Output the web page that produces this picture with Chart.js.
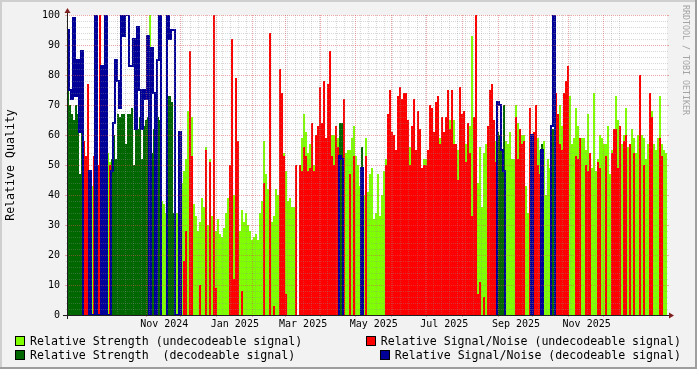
<!DOCTYPE html>
<html>
<head>
<meta charset="utf-8">
<script src="https://cdn.jsdelivr.net/npm/chart.js@4.4.1/dist/chart.umd.min.js"></script>
<style>
  body { margin: 0; background: #f2f2f2; }
  #wrap { position: relative; width: 697px; height: 369px; font-family: "DejaVu Sans Mono", monospace; }
  #myChart { position: absolute; left: 0; top: 0; }
  .item { position: absolute; display: flex; align-items: center; height: 14px; font-size: 11.6px; color: #000; white-space: pre; }
  .box { display: inline-block; width: 8px; height: 8px; border: 1px solid #000; margin-right: 5px; }
  #mark { position: absolute; left: 681px; top: 5px; font-size: 8.3px; line-height: 10px; color: #a4a4a4; writing-mode: vertical-rl; white-space: pre; }
</style>
</head>
<body>
<div id="wrap">
  <canvas id="myChart" width="697" height="369"></canvas>
  <div id="legend"></div>
  <div id="mark">RRDTOOL / TOBI OETIKER</div>
</div>
<script>
// time range of the graph: 1 Oct 2024 + 444.4 days, cut into 300 slots
const startDate = Date.UTC(2024, 9, 1);
const totalDays = 444.4;

// 1 = decodeable signal, 0 = undecodeable
const decodeable = [
  1,1,1,1,1,1,1,1,0,0, 0,1,0,0,1,0,0,1,0,1, 0,0,1,1,1,1,1,1,1,1, 1,1,1,1,1,1,1,1,1,1,
  1,0,1,1,0,1,1,0,0,0, 1,1,1,1,0,0,1,0,0,0, 0,0,0,0,0,0,0,0,0,0, 0,0,0,0,0,0,0,0,0,0,
  0,0,0,0,0,0,0,0,0,0, 0,0,0,0,0,0,0,0,0,0, 0,0,0,0,0,0,0,0,0,0, 0,0,0,0,0,0,0,0,0,0,
  0,0,0,0,0,0,0,0,0,0, 0,0,0,0,0,0,1,1,0,0, 0,0,0,0,0,0,0,1,0,0, 0,0,0,0,0,0,0,0,0,0,
  0,0,0,0,0,0,0,0,0,0, 0,0,0,0,0,0,0,0,0,0, 0,0,0,0,0,0,0,0,0,0, 0,0,0,0,0,0,0,0,0,0,
  0,0,0,0,0,0,0,0,0,0, 0,0,0,0,0,1,1,1,1,0, 0,0,0,0,0,0,0,0,0,0, 0,0,1,0,0,0,0,1,0,0,
  0,0,1,1,0,0,0,0,0,0, 0,0,0,0,0,0,0,0,0,0, 0,0,0,0,0,0,0,0,0,0, 0,0,0,0,0,0,0,0,0,0,
  0,0,0,0,0,0,0,0,0,0, 0,0,0,0,0,0,0,0,0,0
];

// relative strength per slot
const strength = [
  88,70,67,65,70,67,47,69,50,48, 52,47,43,50,71,48,50,58,60,66, 54,51,52,60,52,67,66,67,67,57, 67,67,69,50,66,62,66,52,63,65,
  66,100,54,62,35,66,65,38,37,34, 73,73,71,34,34,34,44,44,48,52, 68,60,66,37,33,28,31,39,36,56, 30,52,33,38,28,32,27,26,29,34,
  39,35,46,40,28,29,28,35,31,34, 30,28,25,26,27,25,34,38,58,47, 42,37,31,33,42,40,46,50,54,48, 38,39,36,36,50,null,50,59,67,61,
  54,57,57,50,55,55,58,56,59,58, 55,52,60,60,60,59,64,64,50,54, 55,55,59,63,53,50,43,56,40,59, 41,47,49,32,34,47,33,40,48,52,
  50,60,58,55,50,55,60,60,58,55, 56,56,52,52,50,52,50,44,52,52, 50,50,55,50,52,59,59,62,60,60, 58,65,57,65,55,55,58,55,57,57,
  55,63,93,59,49,44,56,36,54,57, 55,60,60,60,58,61,60,55,70,58, 57,61,52,52,70,64,57,60,60,43, 34,64,60,56,50,59,55,57,58,40,
  52,49,62,62,64,64,70,63,60,62, 64,73,57,59,69,63,50,59,59,55, 67,49,49,74,48,52,60,59,57,57, 63,47,55,59,73,65,57,57,60,69,
  56,53,62,59,54,60,55,60,59,52, 57,55,68,57,55,59,73,57,55,54
];

// relative signal/noise per slot
const snr = [
  95,75,72,99,73,85,61,88,58,53, 77,48,null,53,100,50,100,83,68,100, null,50,48,64,85,78,69,100,93,100, 100,83,83,92,62,96,75,62,75,72,
  93,null,89,74,null,85,100,null,null,null, 100,92,95,95,null,null,61,null,18,28, null,88,53,null,null,null,10,null,null,55, null,51,null,100,9,null,null,null,null,null,
  null,50,92,12,79,58,null,8,null,null, null,null,null,null,null,null,null,null,44,null, null,94,null,3,null,null,82,74,53,7, null,null,null,null,50,null,50,48,56,53,
  48,49,64,48,60,63,76,64,78,59, 77,88,53,50,63,56,53,52,72,null, null,47,null,53,null,null,null,49,null,53, null,null,null,null,null,null,null,null,null,50,
  67,75,61,60,55,73,76,72,74,74, 65,50,63,72,55,68,62,49,50,50, 55,70,69,61,71,73,57,66,61,66, 75,62,75,57,57,45,76,67,68,51,
  64,54,33,66,100,7,11,null,6,null, 63,75,77,65,51,71,70,55,48,null, null,null,null,null,66,52,62,57,58,null, null,69,60,61,70,50,47,55,null,null,
  null,null,63,100,74,67,57,55,74,78, 83,null,null,null,53,52,59,null,null,50, 48,54,null,null,null,51,49,null,null,53, null,null,54,62,62,49,63,null,58,60,
  null,57,null,54,null,null,80,null,50,null, null,74,66,null,null,null,59,53,null,null
];

// x axis labels and the month each one belongs to
const xTickLabels = ['Nov 2024', 'Jan 2025', 'Mar 2025', 'May 2025', 'Jul 2025', 'Sep 2025', 'Nov 2025'];
const xTickMonths = ['2024-11-01', '2025-01-01', '2025-03-01', '2025-05-01', '2025-07-01', '2025-09-01', '2025-11-01'];

const legendLabels = [
  'Relative Strength (undecodeable signal)',
  'Relative Strength  (decodeable signal)',
  'Relative Signal/Noise (undecodeable signal)',
  'Relative Signal/Noise (decodeable signal)'
];
const legendColors = ['#7fff00', '#006600', '#ff0000', '#000099'];

function dayOf(ms) {
  return (ms - startDate) / 86400000;
}

// split the series by decodeable / undecodeable
const strengthU = strength.map((v, i) => decodeable[i] ? null : v);
const strengthD = strength.map((v, i) => decodeable[i] ? v : null);
const snrU = snr.map((v, i) => decodeable[i] ? null : v);
// the decodeable S/N is a step line which drops to 0 next to undecodeable slots
const snrD = snr.map((v, i) => {
  if (decodeable[i]) return v;
  return (decodeable[i - 1] || decodeable[i + 1]) ? 0 : null;
});

// rrdtool look: background, frame, grid on top of the graph, axes and arrows
const rrdFrame = {
  id: 'rrdFrame',
  beforeDraw(chart) {
    const { ctx, chartArea: a, width, height } = chart;
    ctx.save();
    ctx.fillStyle = '#f2f2f2';
    ctx.fillRect(0, 0, width, height);
    ctx.fillStyle = '#cfcfcf';
    ctx.fillRect(0, 0, width, 2);
    ctx.fillRect(0, 0, 2, height);
    ctx.fillStyle = '#9e9e9e';
    ctx.fillRect(0, height - 2, width, 2);
    ctx.fillRect(width - 2, 0, 2, height);
    ctx.fillStyle = '#ffffff';
    ctx.fillRect(a.left, a.top, a.right - a.left, a.bottom - a.top);
    ctx.restore();
  },
  afterDatasetsDraw(chart) {
    const { ctx, chartArea: a } = chart;
    const y = chart.scales.y;
    const xt = chart.scales.xt;
    const minor = 'rgba(143,143,143,0.35)';
    const major = 'rgba(222,79,79,0.5)';
    const line = (x1, y1, x2, y2, color) => {
      ctx.strokeStyle = color;
      ctx.beginPath();
      ctx.moveTo(x1, y1);
      ctx.lineTo(x2, y2);
      ctx.stroke();
    };
    ctx.save();
    ctx.lineWidth = 1;

    // week lines (mondays) and month lines
    const months = [];
    for (let k = 1; k < 16; k++) {
      const d = dayOf(Date.UTC(2024, 9 + k, 1));
      if (d < totalDays) months.push(d);
    }
    const weeks = [];
    for (let d = 6; d < totalDays; d += 7) {
      if (!months.includes(d)) weeks.push(d);
    }

    ctx.setLineDash([1, 1]);
    for (let v = 2; v <= 100; v += 2) {
      if (v % 10 === 0) continue;
      const py = Math.round(y.getPixelForValue(v)) + 0.5;
      line(a.left, py, a.right, py, minor);
    }
    weeks.forEach(d => {
      const px = Math.round(xt.getPixelForValue(d)) + 0.5;
      line(px, a.top, px, a.bottom, minor);
    });
    for (let v = 10; v <= 100; v += 10) {
      const py = Math.round(y.getPixelForValue(v)) + 0.5;
      line(a.left, py, a.right, py, major);
    }
    months.forEach(d => {
      const px = Math.round(xt.getPixelForValue(d)) + 0.5;
      line(px, a.top, px, a.bottom, major);
    });

    // little tick marks outside the plot
    ctx.setLineDash([]);
    weeks.forEach(d => {
      const px = Math.round(xt.getPixelForValue(d)) + 0.5;
      line(px, a.bottom, px, a.bottom + 1, minor);
    });
    months.forEach(d => {
      const px = Math.round(xt.getPixelForValue(d)) + 0.5;
      line(px, a.bottom, px, a.bottom + 2, major);
    });
    for (let v = 2; v <= 100; v += 2) {
      const py = Math.round(y.getPixelForValue(v)) + 0.5;
      const len = v % 10 === 0 ? 2 : 1;
      line(a.left - len, py, a.left, py, v % 10 === 0 ? major : minor);
      line(a.right, py, a.right + len, py, v % 10 === 0 ? major : minor);
    }

    // axes
    const ox = a.left + 0.5;
    const oy = a.bottom + 0.5;
    line(a.left - 4, oy, a.right + 4, oy, '#1f1f1f');
    line(ox, a.bottom + 4, ox, a.top - 4, '#1f1f1f');

    // arrows
    ctx.fillStyle = '#801f1f';
    ctx.beginPath();
    ctx.moveTo(a.right + 2, oy - 3);
    ctx.lineTo(a.right + 2, oy + 3);
    ctx.lineTo(a.right + 7, oy);
    ctx.closePath();
    ctx.fill();
    ctx.beginPath();
    ctx.moveTo(ox - 3, a.top - 2);
    ctx.lineTo(ox + 3, a.top - 2);
    ctx.lineTo(ox, a.top - 7);
    ctx.closePath();
    ctx.fill();
    ctx.restore();
  }
};

Chart.defaults.font.family = '"DejaVu Sans Mono", monospace';
Chart.defaults.color = '#000';

const ctx = document.getElementById('myChart');

new Chart(ctx, {
  type: 'bar',
  data: {
    labels: strength.map((v, i) => String(i)),
    datasets: [
      {
        type: 'line',
        label: legendLabels[3],
        data: snrD,
        borderColor: legendColors[3],
        borderWidth: 2,
        pointRadius: 0,
        stepped: 'middle',
        fill: false,
        spanGaps: false,
        order: 0
      },
      { label: legendLabels[2], data: snrU, backgroundColor: legendColors[2], order: 1 },
      { label: legendLabels[1], data: strengthD, backgroundColor: legendColors[1], order: 2 },
      { label: legendLabels[0], data: strengthU, backgroundColor: legendColors[0], order: 3 }
    ]
  },
  options: {
    responsive: false,
    animation: false,
    devicePixelRatio: 1,
    layout: { padding: { top: 15, right: 30, left: 0, bottom: 0 } },
    datasets: {
      bar: { barPercentage: 1, categoryPercentage: 1, grouped: false, borderWidth: 0, inflateAmount: 0 }
    },
    plugins: {
      legend: { display: false },
      tooltip: { enabled: false }
    },
    scales: {
      x: { type: 'category', display: false, offset: true },
      xt: {
        type: 'linear',
        position: 'bottom',
        min: 0,
        max: totalDays,
        afterBuildTicks(scale) {
          // labels sit in the middle of their month
          scale.ticks = xTickMonths.map(m => ({ value: dayOf(Date.parse(m)) + 16 }));
        },
        afterFit(scale) { scale.height = 54; },
        grid: { display: false, drawTicks: false },
        border: { display: false },
        ticks: {
          autoSkip: false,
          maxRotation: 0,
          minRotation: 0,
          padding: 3,
          font: { size: 10 },
          callback: (v, i) => xTickLabels[i]
        }
      },
      y: {
        min: 0,
        max: 100,
        afterFit(scale) { scale.width = 67; },
        grid: { display: false, drawTicks: false },
        border: { display: false },
        ticks: { stepSize: 10, padding: 7, font: { size: 10 } },
        title: {
          display: true,
          text: 'Relative Quality',
          font: { size: 11.6 },
          padding: { top: 4, bottom: 0 }
        }
      }
    }
  },
  plugins: [rrdFrame]
});

// legend in two justified columns, like rrdtool does it
const legend = document.getElementById('legend');
const legendPlaces = [
  { left: 15, top: 334 },
  { left: 15, top: 348 },
  { right: 16, top: 334 },
  { right: 16, top: 348 }
];
legendLabels.forEach((text, i) => {
  const item = document.createElement('div');
  item.className = 'item';
  const p = legendPlaces[i];
  item.style.top = p.top + 'px';
  if (p.left !== undefined) item.style.left = p.left + 'px';
  else item.style.right = p.right + 'px';
  const box = document.createElement('span');
  box.className = 'box';
  box.style.background = legendColors[i];
  const label = document.createElement('span');
  label.textContent = text;
  item.appendChild(box);
  item.appendChild(label);
  legend.appendChild(item);
});
</script>
</body>
</html>
